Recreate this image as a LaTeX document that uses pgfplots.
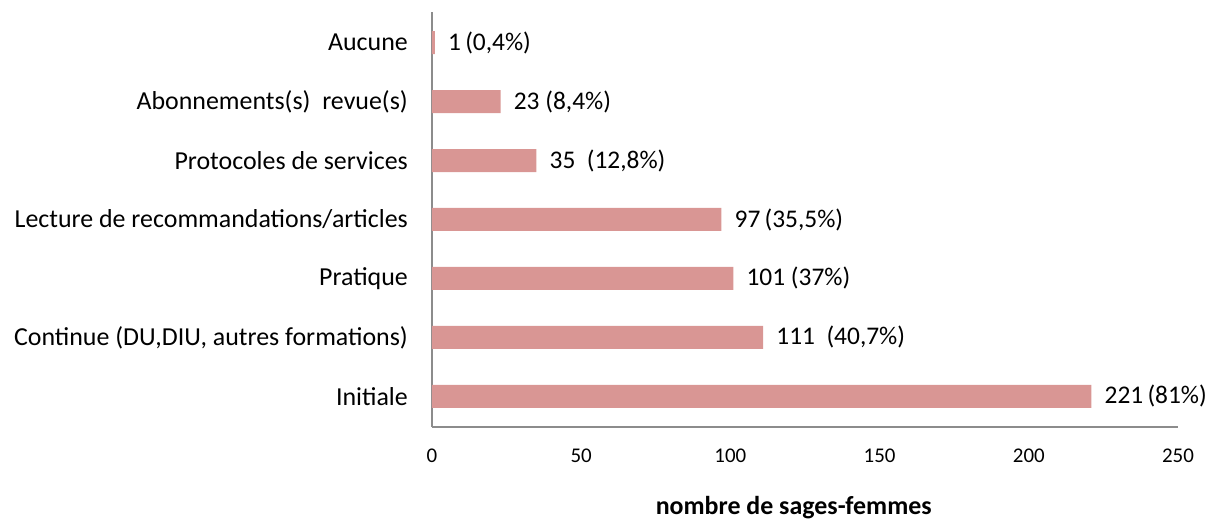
\documentclass[border=0pt]{standalone}
\usepackage{pgfplots}
\pgfplotsset{compat=1.18}
\usepackage{fontspec}
\setmainfont{Carlito}
\definecolor{barre}{HTML}{D99694}
\definecolor{axe}{HTML}{8C8C8C}
\begin{document}
\begin{tikzpicture}
\path[use as bounding box] (-432bp,-93bp) rectangle (777bp,427bp);
\begin{axis}[
    at={(0,0)}, anchor=south west,
    scale only axis,
    width=746bp, height=415bp,
    xmin=0, xmax=250,
    ymin=-0.52, ymax=6.52,
    xbar, bar width=23bp,
    axis x line=bottom, axis y line=left,
    axis line style={axe, line width=1.2bp, -},
    major tick length=0pt,
    xtick={0,50,100,150,200,250},
    ytick={0,...,6},
    yticklabels={Initiale,
        {Continue (DU,DIU, autres formations)},
        {Pratique\ },
        Lecture de recommandations/articles,
        Protocoles de services,
        Abonnements(s)\ \ revue(s),
        Aucune},
    /pgf/number format/assume math mode=true,
    yticklabel style={font=\fontsize{26}{28}\selectfont, inner sep=0pt, xshift=-24bp},
    xticklabel style={font=\fontsize{21}{24}\selectfont, inner sep=0pt, yshift=-22bp},
    xlabel={\textbf{nombre de sages-femmes}},
    xlabel style={font=\fontsize{26}{30}\selectfont, at={(axis description cs:0.485,0)}, anchor=north, yshift=-69bp, inner sep=0pt},
    nodes near coords,
    point meta=explicit symbolic,
    every node near coord/.append style={font=\fontsize{25.5}{28}\selectfont, anchor=west, inner sep=0pt, xshift=13bp, text=black},
    clip=false,
]
\addplot[fill=barre, draw=none] coordinates {
    (221,0) [221\,(81\%)]
    (111,1) [111\ \ (40,7\%)]
    (101,2) [101 (37\%)]
    (97,3) [97\,(35,5\%)]
    (35,4) [35\ \ (12,8\%)]
    (23,5) [23 (8,4\%)]
    (1,6) [1\,(0,4\%)]
};
\end{axis}
\end{tikzpicture}
\end{document}
